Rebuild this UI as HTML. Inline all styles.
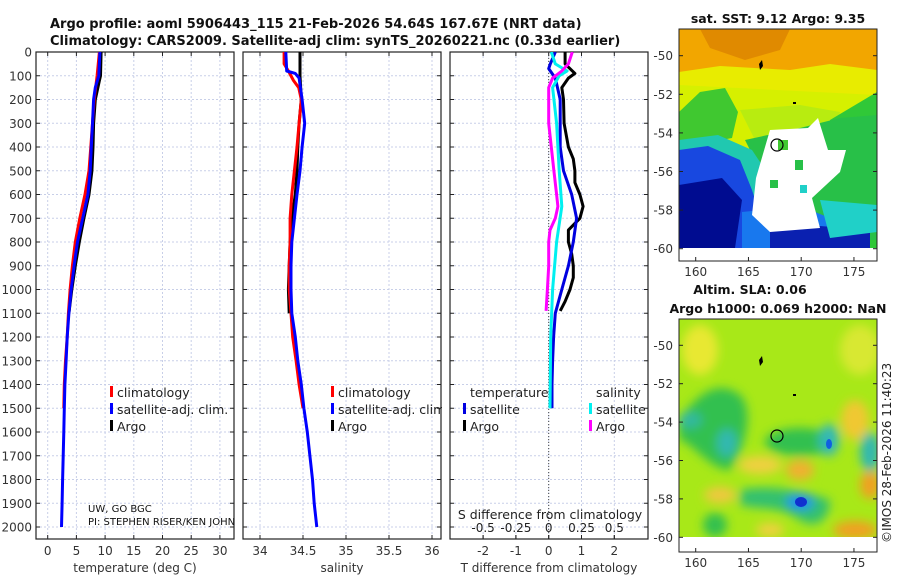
<!DOCTYPE html>
<html><head><meta charset="utf-8">
<style>
html,body{margin:0;padding:0;background:#fff;}
svg{display:block;font-family:"DejaVu Sans","Liberation Sans",sans-serif;}
</style></head>
<body>
<svg id="chart" width="900" height="580" viewBox="0 0 900 580" xmlns="http://www.w3.org/2000/svg">
<defs>
 <filter id="blur" x="-20%" y="-20%" width="140%" height="140%"><feGaussianBlur stdDeviation="5"/></filter>
 <clipPath id="m1clip"><rect x="679" y="29" width="198" height="219"/></clipPath>
 <clipPath id="m2clip"><rect x="679" y="319" width="198" height="218"/></clipPath>
 <clipPath id="p1clip"><rect x="36" y="52" width="198" height="487"/></clipPath>
 <clipPath id="p2clip"><rect x="243" y="52" width="198" height="487"/></clipPath>
 <clipPath id="p3clip"><rect x="450" y="52" width="198" height="487"/></clipPath>
</defs>
<g font-weight="bold" font-size="13" fill="#111">
 <text x="50" y="28">Argo profile: aoml 5906443_115 21-Feb-2026 54.64S 167.67E (NRT data)</text>
 <text x="50" y="45">Climatology: CARS2009. Satellite-adj clim: synTS_20260221.nc (0.33d earlier)</text>
</g>
<g id="panels"></g>

<!-- SST map -->
<g>
 <text x="778" y="23" text-anchor="middle" font-weight="bold" font-size="12.5" fill="#111">sat. SST: 9.12 Argo: 9.35</text>
 <g clip-path="url(#m1clip)">
  <rect x="679" y="29" width="198" height="219" fill="#f2a600"/>
  <polygon points="700,29 790,29 780,50 745,60 710,48" fill="#e08a00"/>
  <polygon points="679,72 720,66 790,70 830,64 877,70 877,248 679,248" fill="#e8ec00"/>
  <polygon points="679,85 877,95 877,248 679,248" fill="#d6f000"/>
  <polygon points="740,110 800,105 840,112 830,150 760,150" fill="#b8ec10"/>
  <polygon points="830,120 877,92 877,248 820,248" fill="#30c838"/>
  <polygon points="700,92 725,88 738,112 732,138 679,148 679,112" fill="#40c830"/>
  <polygon points="745,140 800,128 840,118 877,115 877,240 830,240 790,195 760,170" fill="#28c048"/>
  <polygon points="679,140 718,135 752,150 772,180 768,205 679,205" fill="#20c8b0"/>
  <polygon points="679,150 708,146 740,160 752,190 760,215 760,248 679,248" fill="#1848e0"/>
  <polygon points="679,185 722,178 742,200 735,248 679,248" fill="#000c90"/>
  <polygon points="742,212 800,206 835,220 845,248 742,248" fill="#1878ee"/>
  <polygon points="770,222 820,226 870,230 870,248 770,248" fill="#0a20b0"/>
  <polygon points="820,200 877,205 877,232 830,238" fill="#20d0c8"/>
  <polygon points="756,178 770,130 808,128 818,118 828,150 846,150 840,172 812,198 820,228 770,232 752,215" fill="#ffffff"/>
  <rect x="778" y="140" width="10" height="10" fill="#40c830"/>
  <rect x="795" y="160" width="8" height="10" fill="#28c048"/>
  <rect x="770" y="180" width="8" height="8" fill="#28c048"/>
  <rect x="800" y="185" width="7" height="8" fill="#20d0c8"/>
  <rect x="679" y="248" width="198" height="13" fill="#fff"/>
 </g>
 <rect x="679" y="29" width="198" height="232" fill="none" stroke="#222" stroke-width="1"/>
 <path d="M759,64 l3,-4 l1,6 l-3,4z" fill="#000"/>
 <rect x="793" y="102" width="3" height="2" fill="#000"/>
 <circle cx="777" cy="145" r="6" fill="none" stroke="#000" stroke-width="1.2"/>
 <g id="m1axes"></g>
</g>

<!-- SLA map -->
<g>
 <text x="750" y="294" text-anchor="middle" font-weight="bold" font-size="12.5" fill="#111">Altim. SLA: 0.06</text>
 <text x="778" y="313" text-anchor="middle" font-weight="bold" font-size="12.5" fill="#111">Argo h1000: 0.069 h2000: NaN</text>
 <g clip-path="url(#m2clip)">
  <rect x="679" y="319" width="198" height="218" fill="#a8e818"/>
  <g filter="url(#blur)">
   <ellipse cx="700" cy="350" rx="18" ry="25" fill="#e8e830"/>
   <ellipse cx="860" cy="350" rx="20" ry="25" fill="#d8e830"/>
   <path d="M679,420 C700,390 720,380 740,395 C755,410 745,450 730,470 C710,470 690,440 679,440z" fill="#30c050"/>
   <ellipse cx="718" cy="405" rx="18" ry="10" fill="#30c050"/>
   <ellipse cx="690" cy="420" rx="12" ry="8" fill="#30b8a0"/>
   <ellipse cx="727" cy="443" rx="10" ry="14" fill="#30b8b0"/>
   <ellipse cx="800" cy="442" rx="35" ry="14" fill="#30c050"/>
   <ellipse cx="829" cy="440" rx="10" ry="16" fill="#30b8b8"/>
   <ellipse cx="870" cy="452" rx="10" ry="20" fill="#30b8b0"/>
   <ellipse cx="855" cy="420" rx="14" ry="20" fill="#f0c830"/>
   <ellipse cx="760" cy="465" rx="22" ry="9" fill="#f0d040"/>
   <ellipse cx="800" cy="470" rx="14" ry="10" fill="#f0b030"/>
   <ellipse cx="870" cy="485" rx="10" ry="14" fill="#f0a020"/>
   <path d="M740,490 C770,485 800,490 830,500 C830,520 815,530 800,520 C780,505 760,510 740,505z" fill="#30c070"/>
   <ellipse cx="800" cy="502" rx="14" ry="8" fill="#2090f0"/>
   <ellipse cx="720" cy="495" rx="16" ry="8" fill="#f0c840"/>
   <ellipse cx="715" cy="525" rx="12" ry="12" fill="#30c050"/>
   <ellipse cx="855" cy="530" rx="22" ry="9" fill="#f0a020"/>
   <ellipse cx="770" cy="530" rx="14" ry="7" fill="#f0d040"/>
  </g>
  <ellipse cx="801" cy="502" rx="6" ry="5" fill="#1030d0"/>
  <ellipse cx="829" cy="444" rx="3" ry="5" fill="#1060e0"/>
  <rect x="679" y="537" width="198" height="15" fill="#fff"/>
 </g>
 <rect x="679" y="319" width="198" height="233" fill="none" stroke="#222" stroke-width="1"/>
 <path d="M759,360 l3,-4 l1,6 l-3,4z" fill="#000"/>
 <rect x="793" y="394" width="3" height="2" fill="#000"/>
 <circle cx="777" cy="436" r="6" fill="none" stroke="#000" stroke-width="1.2"/>
 <g id="m2axes"></g>
 <text transform="translate(891,543) rotate(-90)" font-size="12" fill="#222">©IMOS 28-Feb-2026 11:40:23</text>
</g>
</svg>
<script>
// ---- data (depth in m) ----
const depthArgo = [0,100,120,200,300,400,500,600,700,800,900,1000,1100];
const tempArgo  = [9.3,9.2,9.0,8.3,8.0,7.9,7.7,7.2,6.3,5.5,4.8,4.2,3.7];
const depthClim = [0,100,200,300,400,500,600,700,800,900,1000,1100,1200,1300,1400,1500];
const tempClim  = [9.0,8.6,8.1,7.8,7.5,7.2,6.5,5.6,4.8,4.3,3.9,3.6,3.4,3.1,2.9,2.8];
const depthSat  = [0,100,150,200,300,400,500,600,700,800,900,1000,1100,1200,1300,1400,1500,1600,1700,1800,1900,2000];
const tempSat   = [9.1,8.9,8.3,8.0,7.8,7.6,7.4,7.0,6.1,5.2,4.6,4.1,3.7,3.4,3.2,3.0,2.9,2.8,2.7,2.6,2.5,2.4];
const salArgoDepth = [0,100,200,300,400,500,600,700,800,900,1000,1100];
const salArgo   = [34.465,34.465,34.48,34.455,34.44,34.43,34.41,34.37,34.35,34.34,34.33,34.34];
const salClimDepth = [0,50,80,120,150,200,300,400,500,600,700,800,900,1000,1100,1200,1300,1400,1500];
const salClim   = [34.28,34.28,34.33,34.39,34.45,34.48,34.455,34.43,34.4,34.37,34.35,34.35,34.34,34.34,34.36,34.38,34.42,34.455,34.5];
const salSatDepth = [0,80,90,110,200,300,400,500,600,700,800,900,1000,1100,1200,1300,1400,1500,1600,1700,1800,1900,2000];
const salSat    = [34.3,34.31,34.41,34.455,34.49,34.52,34.49,34.465,34.43,34.4,34.37,34.36,34.36,34.37,34.41,34.44,34.48,34.51,34.55,34.58,34.61,34.63,34.66];
const tdiffArgoDepth = [0,50,90,110,150,200,300,400,450,500,550,600,650,700,750,800,850,900,950,1000,1050,1090];
const tdiffArgo = [0.5,0.5,0.8,0.6,0.4,0.45,0.47,0.6,0.75,0.8,0.8,0.95,1.05,0.95,0.6,0.6,0.7,0.75,0.75,0.65,0.5,0.35];
const tdiffSatDepth = [0,50,70,110,200,300,400,500,600,700,800,900,1000,1100,1200,1300,1400,1500];
const tdiffSat  = [0.2,0.05,0.0,0.2,0.35,0.35,0.35,0.45,0.7,0.85,0.75,0.6,0.4,0.2,0.15,0.12,0.1,0.1];
const sdiffSatDepth = [0,50,80,100,150,300,500,650,800,1000,1200,1500];
const sdiffSat  = [0.02,0.05,0.14,0.08,0.03,0.06,0.08,0.1,0.06,0.03,0.015,0.01];
const sdiffArgoDepth = [0,50,80,110,150,300,400,500,600,650,700,750,800,900,1000,1090];
const sdiffArgo = [0.18,0.15,0.1,0.03,0.0,0.0,0.02,0.04,0.06,0.07,0.05,0.01,0.0,0.0,-0.01,-0.02];
const depthTicks = [0,100,200,300,400,500,600,700,800,900,1000,1100,1200,1300,1400,1500,1600,1700,1800,1900,2000];
const tempTicks = [0,5,10,15,20,25,30];
const salTicks = [34,34.5,35,35.5,36];
const tdTicks = [-2,-1,0,1,2];
const sdTicks = [-0.5,-0.25,0,0.25,0.5];
const sdTickLabels = ["-0.5","-0.25","0","0.25","0.5"];
const latTicks = [-50,-52,-54,-56,-58,-60];
const lonTicks = [160,165,170,175];

const NS = "http://www.w3.org/2000/svg";
const yD = d => 52 + d*0.2375;
const xT = t => 47.7 + t*5.74;
const xS = s => 260 + (s-34)*86;
const xTD = t => 548.7 + t*32.8;
const xSD = s => 548.7 + s*131.2;
const panelsG = document.getElementById('panels');
function mk(tag, attrs, parent){ const e=document.createElementNS(NS,tag); for(const k in attrs) e.setAttribute(k,attrs[k]); (parent||panelsG).appendChild(e); return e; }
function txt(s, attrs, parent){ const e=mk('text',attrs,parent); e.textContent=s; return e; }

function panel(x0, ticks, xf, tickLabels, title, name){
  const g = mk('g',{});
  
  
  depthTicks.forEach(d=>{ const l=mk('line',{x1:x0,x2:x0+198,y1:yD(d),y2:yD(d),stroke:'#c8cfe8','stroke-width':1,'stroke-dasharray':'2,2'},g);
      });
  ticks.forEach(t=>{ const l=mk('line',{x1:xf(t),x2:xf(t),y1:52,y2:539,stroke:'#c8cfe8','stroke-width':1,'stroke-dasharray':'2,2'},g);
      });
  mk('rect',{x:x0,y:52,width:198,height:487,fill:'none',stroke:'#222','stroke-width':1.2},g);
  depthTicks.forEach(d=>{ mk('line',{x1:x0,x2:x0+4,y1:yD(d),y2:yD(d),stroke:'#222'},g); mk('line',{x1:x0+198,x2:x0+194,y1:yD(d),y2:yD(d),stroke:'#222'},g); });
  ticks.forEach((t,i)=>{ mk('line',{x1:xf(t),x2:xf(t),y1:539,y2:535,stroke:'#222'},g); mk('line',{x1:xf(t),x2:xf(t),y1:52,y2:56,stroke:'#222'},g);
    const tl=txt(tickLabels[i],{x:xf(t),y:555,'text-anchor':'middle','font-size':12,fill:'#333'},g);
      });
  const at=txt(title,{x:x0+99,y:572,'text-anchor':'middle','font-size':12,fill:'#333'},g);
   
  return g;
}
function line(g, xs, ds, xf, color, clip, name){
  const p = xs.map((v,i)=>xf(v).toFixed(1)+','+yD(ds[i]).toFixed(1)).join(' ');
  const e = mk('polyline',{points:p,fill:'none',stroke:color,'stroke-width':3,'stroke-linejoin':'round','clip-path':clip},g);
  
  
}
function legend(g, x, items){
  items.forEach((it,i)=>{
    const y = 392 + i*17;
    mk('rect',{x:x,y:y-6,width:3,height:11,fill:it[1]},g);
    const t=txt(it[0],{x:x+7,y:y+5,'font-size':12.5,fill:'#222'},g);
     
  });
}
const yl = mk('g',{});


depthTicks.forEach(d=>{ const t=txt(String(d),{x:32,y:yD(d)+4.5,'text-anchor':'end','font-size':12,fill:'#333'},yl);
    });

// Panel 1
const g1 = panel(36, tempTicks, xT, tempTicks.map(String), 'temperature (deg C)', 'temperature-panel');
line(g1, tempArgo, depthArgo, xT, '#000', 'url(#p1clip)', 'argo-temperature-line');
line(g1, tempClim, depthClim, xT, '#f00', 'url(#p1clip)', 'climatology-temperature-line');
line(g1, tempSat, depthSat, xT, '#00f', 'url(#p1clip)', 'satellite-temperature-line');
legend(g1, 110, [['climatology','#f00'],['satellite-adj. clim.','#00f'],['Argo','#000']]);
txt('UW, GO BGC',{x:88,y:512,'font-size':10,fill:'#111'},g1);
txt('PI: STEPHEN RISER/KEN JOHN',{x:88,y:525,'font-size':10,fill:'#111'},g1);

// Panel 2
const g2 = panel(243, salTicks, xS, salTicks.map(String), 'salinity', 'salinity-panel');
line(g2, salArgo, salArgoDepth, xS, '#000', 'url(#p2clip)', 'argo-salinity-line');
line(g2, salClim, salClimDepth, xS, '#f00', 'url(#p2clip)', 'climatology-salinity-line');
line(g2, salSat, salSatDepth, xS, '#00f', 'url(#p2clip)', 'satellite-salinity-line');
legend(g2, 331, [['climatology','#f00'],['satellite-adj. clim.','#00f'],['Argo','#000']]);
mk('rect',{x:442,y:52,width:7,height:487,fill:'#fff'});

// Panel 3
const g3 = panel(450, tdTicks, xTD, tdTicks.map(String), 'T difference from climatology', 'difference-panel');
mk('line',{x1:xTD(0),x2:xTD(0),y1:52,y2:539,stroke:'#444','stroke-width':1,'stroke-dasharray':'1,2'},g3);
line(g3, tdiffArgo, tdiffArgoDepth, xTD, '#000', 'url(#p3clip)', 'argo-t-diff-line');
line(g3, tdiffSat, tdiffSatDepth, xTD, '#0000e0', 'url(#p3clip)', 'satellite-t-diff-line');
line(g3, sdiffSat, sdiffSatDepth, xSD, '#00f0f0', 'url(#p3clip)', 'satellite-s-diff-line');
line(g3, sdiffArgo, sdiffArgoDepth, xSD, '#ff00ff', 'url(#p3clip)', 'argo-s-diff-line');
txt('temperature',{x:470,y:397,'font-size':12.5,fill:'#222'},g3);
txt('salinity',{x:596,y:397,'font-size':12.5,fill:'#222'},g3);
[['satellite','#0000e0',463,409],['Argo','#000',463,426],['satellite','#00f0f0',589,409],['Argo','#ff00ff',589,426]].forEach(it=>{
  mk('rect',{x:it[2],y:it[3]-6,width:3,height:11,fill:it[1]},g3);
  const t=txt(it[0],{x:it[2]+7,y:it[3]+5,'font-size':12.5,fill:'#222'},g3);
   
});
const sdt = txt('S difference from climatology',{x:550,y:519,'text-anchor':'middle','font-size':12.5,fill:'#222'},g3);
 
sdTicks.forEach((s,i)=>{ const t=txt(sdTickLabels[i],{x:xSD(s),y:532,'text-anchor':'middle','font-size':12,fill:'#222'},g3);
   
  mk('line',{x1:xSD(s),x2:xSD(s),y1:535,y2:539,stroke:'#222'},g3); });

function mapAxes(id, yLat, yBottom){
  const g=document.getElementById(id);
  const xLon = l => 695.7 + (l-160)*10.55;
  latTicks.forEach(l=>{ const y=yLat(l);
    mk('line',{x1:679,x2:683,y1:y,y2:y,stroke:'#222'},g); mk('line',{x1:877,x2:873,y1:y,y2:y,stroke:'#222'},g);
    const t=txt(String(l),{x:673,y:y+4.5,'text-anchor':'end','font-size':12,fill:'#333'},g);
      });
  lonTicks.forEach(l=>{ const x=xLon(l);
    mk('line',{x1:x,x2:x,y1:yBottom,y2:yBottom-4,stroke:'#222'},g);
    const t=txt(String(l),{x:x,y:yBottom+15,'text-anchor':'middle','font-size':12,fill:'#333'},g);
      });
}
mapAxes('m1axes', l => 55.7 + (-50-l)*19.3, 261);
mapAxes('m2axes', l => 345.3 + (-50-l)*19.2, 552);
</script>
</body></html>
